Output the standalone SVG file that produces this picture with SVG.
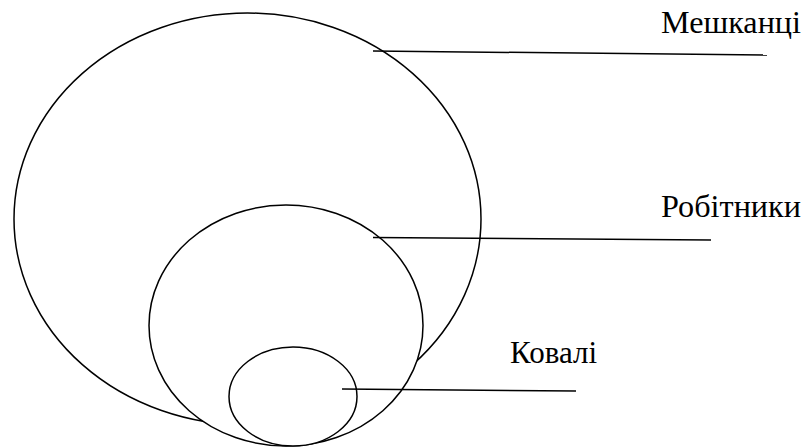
<svg xmlns="http://www.w3.org/2000/svg" width="810" height="447" viewBox="0 0 810 447">
<style>
.shape{fill:#fff;stroke:#000;stroke-width:1.5}
.conn{stroke:#000;stroke-width:1.5;fill:none}
</style>
<rect width="810" height="447" fill="#fff"/>
<g id="meshkantsi" font-family="Liberation Serif, serif" font-size="32">
<ellipse class="shape" cx="247.5" cy="219" rx="233.5" ry="206"/>
<text x="661" y="33" textLength="140" lengthAdjust="spacingAndGlyphs">Мешканці</text>
</g>
<g id="robitnyky" font-family="Liberation Serif, serif" font-size="32">
<ellipse class="shape" cx="286" cy="325.5" rx="137" ry="120.5"/>
<text x="661" y="217" textLength="140" lengthAdjust="spacingAndGlyphs">Робітники</text>
</g>
<g id="kovali" font-family="Liberation Serif, serif" font-size="32">
<ellipse class="shape" cx="293" cy="396.5" rx="64" ry="49.5"/>
<text x="510" y="363" textLength="87" lengthAdjust="spacingAndGlyphs">Ковалі</text>
</g>
<g id="connectors">
<line class="conn" x1="373" y1="51" x2="767" y2="55"/>
<line class="conn" x1="373" y1="237.5" x2="711" y2="240"/>
<line class="conn" x1="342" y1="389" x2="576" y2="391"/>
</g>
</svg>
